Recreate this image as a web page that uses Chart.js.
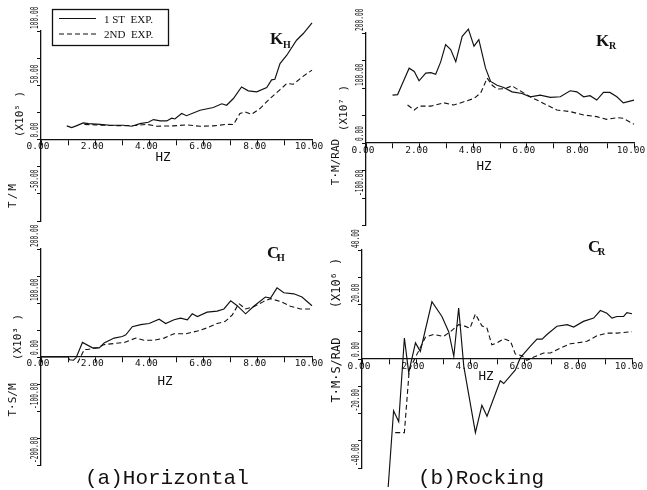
<!DOCTYPE html>
<html><head><meta charset="utf-8">
<script src="https://cdn.jsdelivr.net/npm/chart.js@4.4.1/dist/chart.umd.min.js"></script>
<style>
html,body{margin:0;padding:0;background:#fff;}
#wrap{position:relative;width:647px;height:490px;overflow:hidden;background:#fff;}
canvas{position:absolute;left:0;top:0;}
</style></head>
<body><div id="wrap">
<canvas id="cA" width="647" height="490"></canvas>
<canvas id="cB" width="647" height="490"></canvas>
<canvas id="cC" width="647" height="490"></canvas>
<canvas id="cD" width="647" height="490"></canvas>
</div>
<script>
// ---------- tick labels ----------
const xTickValues = [0, 2, 4, 6, 8, 10];
const xTickLabels = ['0.00', '2.00', '4.00', '6.00', '8.00', '10.00'];
const khYTickValues = [100, 50, 0, -50];
const khYTickLabels = ['100.00', '50.00', '0.00', '-50.00'];
const krYTickValues = [200, 100, 0, -100];
const krYTickLabels = ['200.00', '100.00', '0.00', '-100.00'];
const chYTickValues = [200, 100, 0, -100, -200];
const chYTickLabels = ['200.00', '100.00', '0.00', '-100.00', '-200.00'];
const crYTickValues = [40, 20, 0, -20, -40];
const crYTickLabels = ['40.00', '20.00', '0.00', '-20.00', '-40.00'];
const seriesNames = ['1 ST  EXP.', '2ND  EXP.'];

// ---------- K_H (x10^5 T/M) ----------
const khHz1 = [0.95,1.13,1.3,1.56,1.75,2.18,2.55,3.04,3.35,3.65,3.96,4.15,4.4,4.64,4.82,4.94,5.19,5.37,5.87,6.36,6.67,6.85,7.1,7.4,7.65,7.96,8.33,8.51,8.63,8.82,9.07,9.43,9.68,10.0];
const khVal1 = [12.6,11,12.6,15.4,14.7,14,13.2,13.2,12.3,14.7,16,18.4,17.2,17.2,19.7,19,24,22,27,29.5,33,31.6,37.8,48.5,44.9,44,48,55,55.6,70,77.7,91.5,97.7,107.5];
const khHz2 = [1.6,2.0,2.5,3.0,3.5,3.9,4.27,4.88,5.37,5.87,6.36,6.85,7.1,7.34,7.53,7.77,8.08,8.45,8.82,9.07,9.31,9.68,10.0];
const khVal2 = [14,13.5,13,12.8,13,14,12.3,12.6,13.5,12.3,12.6,14,13.8,24,25.5,23.3,28.6,37.8,46,51.6,51,58.4,64];

// ---------- K_R (x10^7 T.M/RAD) ----------
const krHz1 = [0.99,1.18,1.36,1.61,1.8,1.98,2.23,2.42,2.6,2.79,2.97,3.16,3.35,3.59,3.82,4.03,4.21,4.46,4.65,4.89,5.14,5.45,5.82,6.13,6.5,6.88,7.25,7.62,7.87,8.12,8.36,8.61,8.86,9.1,9.36,9.6,10.0];
const krVal1 = [87,88,108,136,130,113,127,128,125,148,179,170,148,194,207,176,188,136,112,105,101,93,90,84,87,83,84,95,93,84,86,78,92,92,84,73,78];
const krHz2 = [1.55,1.8,1.98,2.42,2.91,3.28,3.65,4.03,4.28,4.52,4.71,4.89,5.2,5.45,5.64,6.13,6.63,7.12,7.62,8.12,8.61,8.98,9.36,9.6,10.0];
const krVal2 = [69,60,67,67,73,69,75,81,91,118,105,98,99,104,98,84,72,60,57,51,48,43,46,45,34];

// ---------- C_H (x10^3 T.S/M) ----------
const chHz1 = [0,0.5,1.0,1.05,1.2,1.3,1.53,1.9,2.15,2.33,2.7,3.0,3.13,3.37,3.68,3.99,4.36,4.6,4.91,5.15,5.4,5.58,5.77,6.13,6.5,6.75,7.0,7.24,7.55,7.85,8.28,8.47,8.71,8.96,9.33,9.63,10.0];
const chVal1 = [0,0,0,-5,-6,-1,27,17,17,26,35,38,41,56,60,62,70,62,69,72,69,80,75,83,85,89,104,95,80,94,111,109,128,119,117,111,95];
const chHz2 = [1.35,1.6,1.72,2.09,2.33,2.7,3.07,3.5,3.8,4.17,4.54,4.91,5.34,5.77,6.13,6.5,6.8,7.06,7.3,7.55,7.85,8.22,8.47,8.83,9.2,9.57,10.0];
const chVal2 = [-11,14,14,17,23,25,27,35,31,31,35,43,43,48,54,62,66,78,99,89,93,103,108,103,94,89,89];

// ---------- C_R (x10^6 T.M.S/RAD) ----------
const crHz1 = [0.97,1.17,1.36,1.57,1.73,1.98,2.16,2.59,2.96,3.21,3.4,3.58,3.77,4.2,4.44,4.63,5.12,5.25,5.68,5.86,6.23,6.48,6.67,6.85,7.22,7.6,7.84,8.2,8.58,8.83,9.07,9.26,9.44,9.69,9.81,10.0];
const crVal1 = [-47,-19,-23,7.7,-5,5.9,2.8,21,15.6,10,1,18.7,-2.7,-27,-17,-21,-8,-9,-4,0.4,4.6,7.3,7.3,9,12,12.6,11.7,13.8,15,17.8,16.8,15,15.6,15.6,17,16.6];
const crHz2 = [1.23,1.57,1.75,1.9,2.1,2.35,2.65,3.02,3.27,3.58,3.77,4.0,4.2,4.44,4.63,4.81,5.0,5.25,5.5,5.68,5.93,6.1,6.36,6.73,6.98,7.35,7.72,8.09,8.33,8.7,9.07,9.44,10.0];
const crVal2 = [-27,-27,-4,-1,3,8,9,8.3,10,12.6,12.2,11.3,16.5,12.2,11.3,5.2,5.9,7.4,6.5,1.8,1.2,-0.5,0.7,2.2,2.2,4,5.6,6.1,6.5,8.5,9.5,9.5,10];

// ---------- helpers ----------
const W = 647, H = 490;
const toPts = (xs, ys) => xs.map((x, i) => ({x: x, y: ys[i]}));
const MONO = '"DejaVu Sans Mono", monospace';
const SERIF = '"Liberation Serif", "DejaVu Serif", serif';

function rotText(ctx, text, x, y, size, opts) {
  opts = opts || {};
  ctx.save();
  ctx.font = size + 'px ' + MONO;
  ctx.fillStyle = '#111';
  ctx.translate(x, y);
  ctx.rotate(-Math.PI / 2);
  if (opts.spacing) ctx.letterSpacing = opts.spacing + 'px';
  ctx.textAlign = 'center';
  ctx.textBaseline = 'middle';
  ctx.fillText(text, 0, 0);
  ctx.restore();
}

function decoPlugin(spec) {
  return {
    id: 'deco',
    afterDraw(chart) {
      const ctx = chart.ctx;
      const xs = chart.scales.x, ys = chart.scales.y;
      const zeroY = ys.getPixelForValue(0);
      const axisX = xs.getPixelForValue(0);
      ctx.save();
      ctx.fillStyle = '#111';
      // x tick labels
      ctx.font = '9.5px ' + MONO;
      ctx.textAlign = 'center';
      ctx.textBaseline = 'middle';
      xTickValues.forEach((v, i) => {
        ctx.fillText(xTickLabels[i], xs.getPixelForValue(v) - 3, zeroY + spec.xLabDy);
      });
      // y tick labels (rotated, condensed)
      spec.yVals.forEach((v, i) => {
        const py = ys.getPixelForValue(v);
        ctx.save();
        ctx.translate(axisX - 3.5, py - 2);
        ctx.rotate(-Math.PI / 2);
        ctx.scale(0.62, 1);
        ctx.font = '10px ' + MONO;
        ctx.textAlign = 'left';
        ctx.textBaseline = 'alphabetic';
        ctx.fillText(spec.yLabs[i], 0, 0);
        ctx.restore();
      });
      // axis titles
      spec.titles.forEach(t => rotText(ctx, t.text, t.x, t.y, t.size, t));
      // HZ
      ctx.font = '12.5px ' + MONO;
      ctx.textAlign = 'center';
      ctx.textBaseline = 'middle';
      ctx.fillText('HZ', spec.hz[0], spec.hz[1]);
      // panel symbol
      ctx.textAlign = 'left';
      ctx.textBaseline = 'alphabetic';
      ctx.font = 'bold 17px ' + SERIF;
      ctx.fillText(spec.sym[0], spec.sym[2], spec.sym[3]);
      ctx.font = 'bold 10px ' + SERIF;
      ctx.fillText(spec.sym[1], spec.sym[4], spec.sym[5]);
      // legend
      if (spec.legend) {
        const ds = chart.data.datasets;
        ctx.strokeStyle = '#111';
        ctx.lineWidth = 1.3;
        ctx.strokeRect(52.5, 9.5, 116, 36);
        ctx.font = '11px ' + SERIF;
        [18.5, 34].forEach((yy, k) => {
          ctx.beginPath();
          ctx.lineWidth = 1.1;
          ctx.setLineDash(ds[k].borderDash || []);
          ctx.moveTo(59, yy); ctx.lineTo(96, yy); ctx.stroke();
          ctx.setLineDash([]);
          ctx.fillText(ds[k].label, 104, yy + 4);
        });
      }
      // caption
      if (spec.caption) {
        ctx.font = '21px "Liberation Mono", "DejaVu Sans Mono", monospace';
        ctx.fillStyle = '#111';
        ctx.fillText(spec.caption[0], spec.caption[1], spec.caption[2]);
      }
      ctx.restore();
    }
  };
}

function makePanel(id, p, d1, d2, spec) {
  const cv = document.getElementById(id);
  return new Chart(cv, {
    type: 'line',
    data: {
      datasets: [
        {label: seriesNames[0], data: d1, borderColor: '#111', borderWidth: 1.15, pointRadius: 0, fill: false, tension: 0, clip: false},
        {label: seriesNames[1], data: d2, borderColor: '#111', borderWidth: 1.1, borderDash: [5, 3], pointRadius: 0, fill: false, tension: 0, clip: false}
      ]
    },
    options: {
      responsive: false, animation: false, events: [],
      layout: {padding: {left: p.left, right: W - p.right, top: p.top, bottom: H - p.bottom}},
      plugins: {legend: {display: false}, tooltip: {enabled: false}, title: {display: false}},
      scales: {
        x: {
          type: 'linear', min: 0, max: 10, position: {y: 0},
          ticks: {display: false, stepSize: 1, autoSkip: false, maxRotation: 0},
          grid: {display: true, drawOnChartArea: false, drawTicks: true, tickLength: 5, color: '#111', lineWidth: 1},
          border: {display: true, color: '#111', width: 1.3}
        },
        y: {
          type: 'linear', min: p.ymin, max: p.ymax, position: 'left',
          ticks: {display: false, stepSize: p.step},
          grid: {display: true, drawOnChartArea: false, drawTicks: true, tickLength: 4, color: '#111', lineWidth: 1},
          border: {display: true, color: '#111', width: 1.3},
          afterFit: s => { s.width = 0; }
        }
      }
    },
    plugins: [decoPlugin(spec)]
  });
}

makePanel('cA', {left: 41, right: 312, top: 31, bottom: 221, ymin: -75, ymax: 100, step: 25},
  toPts(khHz1, khVal1), toPts(khHz2, khVal2),
  {yVals: khYTickValues, yLabs: khYTickLabels, xLabDy: 7,
   titles: [{text: '(X10\u2075 )', x: 20, y: 114, size: 11}, {text: 'T/M', x: 13, y: 195, size: 11, spacing: 2}],
   hz: [163, 158], sym: ['K', 'H', 270, 44, 283, 48], legend: true, caption: ['(a)Horizontal', 85, 484]});

makePanel('cB', {left: 366, right: 634, top: 33, bottom: 225.5, ymin: -150, ymax: 200, step: 50},
  toPts(krHz1, krVal1), toPts(krHz2, krVal2),
  {yVals: krYTickValues, yLabs: krYTickLabels, xLabDy: 8,
   titles: [{text: '(X10\u2077 )', x: 344, y: 108, size: 11}, {text: 'T\u00b7M/RAD', x: 336, y: 162, size: 11}],
   hz: [484, 167], sym: ['K', 'R', 596, 46, 609, 49]});

makePanel('cC', {left: 41, right: 312, top: 249, bottom: 465, ymin: -200, ymax: 200, step: 50},
  toPts(chHz1, chVal1), toPts(chHz2, chVal2),
  {yVals: chYTickValues, yLabs: chYTickLabels, xLabDy: 7,
   titles: [{text: '(X10\u00b3 )', x: 18, y: 337, size: 11}, {text: 'T\u00b7S/M', x: 13, y: 400, size: 11}],
   hz: [165, 382], sym: ['C', 'H', 267, 258, 277, 261]});

makePanel('cD', {left: 362, right: 632, top: 250, bottom: 468, ymin: -40, ymax: 40, step: 10},
  toPts(crHz1, crVal1), toPts(crHz2, crVal2),
  {yVals: crYTickValues, yLabs: crYTickLabels, xLabDy: 8,
   titles: [{text: '(X10\u2076 )', x: 337, y: 283, size: 12}, {text: 'T\u00b7M\u00b7S/RAD', x: 337, y: 370, size: 12}],
   hz: [486, 377], sym: ['C', 'R', 588, 252, 598, 255], caption: ['(b)Rocking', 418, 484]});
</script>
</body></html>
